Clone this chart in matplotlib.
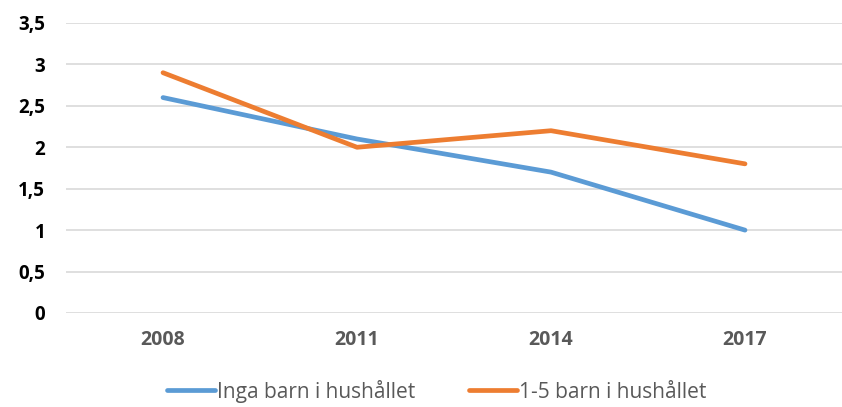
import matplotlib.pyplot as plt

years = ["2008", "2011", "2014", "2017"]
inga_barn = [2.6, 2.1, 1.7, 1.0]
barn_1_5 = [2.9, 2.0, 2.2, 1.8]
series_names = ["Inga barn i hushållet", "1-5 barn i hushållet"]
y_ticks = [0, 0.5, 1, 1.5, 2, 2.5, 3, 3.5]
y_labels = ["0", "0,5", "1", "1,5", "2", "2,5", "3", "3,5"]

plt.rcParams['font.family'] = ['Open Sans', 'DejaVu Sans']

fig = plt.figure(figsize=(8.42, 4.07), dpi=100)
ax = fig.add_axes([0.0784, 0.231, 0.9216, 0.7125])

x = range(len(years))
ax.plot(x, inga_barn, color='#5B9BD5', lw=3.4, solid_capstyle='round', label=series_names[0])
ax.plot(x, barn_1_5, color='#ED7D31', lw=3.4, solid_capstyle='round', label=series_names[1])

ax.set_xlim(-0.5, len(years) - 0.5)
ax.set_ylim(0, 3.5)
ax.set_yticks(y_ticks, labels=y_labels, fontweight='bold', fontsize=13.5, color='black')
ax.set_xticks(list(x), labels=years, fontweight='bold', fontsize=14, color='#595959')

ax.grid(axis='y', color='#D9D9D9', lw=1.2)
ax.set_axisbelow(True)
for s in ax.spines.values():
    s.set_visible(False)
ax.tick_params(length=0)
ax.tick_params(axis='y', pad=15)
ax.tick_params(axis='x', pad=12)

leg = ax.legend(loc='center', bbox_to_anchor=(0.478, -0.27), ncol=2, frameon=False,
                fontsize=15, handlelength=2.3, handletextpad=0.1, columnspacing=2.6,
                labelcolor='#595959')

fig.savefig("out.png", dpi=100)
